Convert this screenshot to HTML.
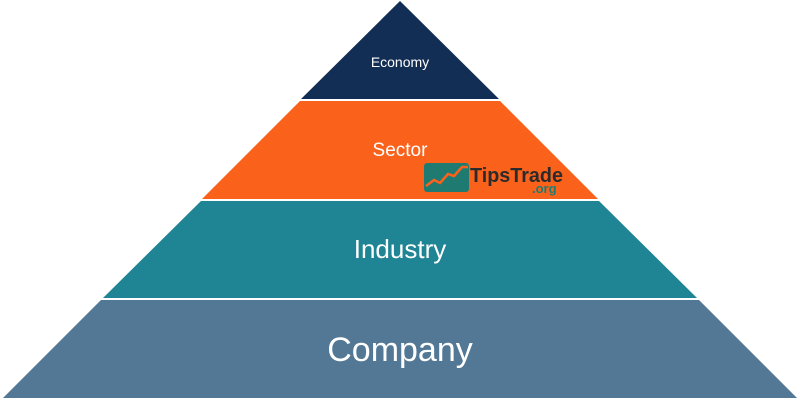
<!DOCTYPE html>
<html><head><meta charset="utf-8"><style>
html,body{margin:0;padding:0;background:#fff;width:800px;height:400px;overflow:hidden}
</style></head><body>
<svg width="800" height="400" viewBox="0 0 800 400" xmlns="http://www.w3.org/2000/svg" font-family="Liberation Sans, sans-serif">
<polygon points="400,1 499,99 301,99" fill="#132e55"/>
<polygon points="300,101 500,101 598,199 202,199" fill="#fa621c"/>
<polygon points="201,201 599,201 697,298 103,298" fill="#1f8494"/>
<polygon points="101,300 699,300 797,398 3,398" fill="#527896"/>
<text x="400" y="67" font-size="14" fill="#fff" text-anchor="middle">Economy</text>
<text x="400" y="156" font-size="19" fill="#fff" text-anchor="middle">Sector</text>
<text x="400" y="258" font-size="26" fill="#fff" text-anchor="middle">Industry</text>
<text x="400" y="361" font-size="34" fill="#fff" text-anchor="middle">Company</text>
<rect x="424" y="163" width="45" height="29" rx="3" fill="#1f7b72"/>
<polyline points="426,186 434,180 440,183 448,174 454,176 462,167 468,167" fill="none" stroke="#fa621c" stroke-width="2.5"/>
<text x="470" y="182" font-size="20" font-weight="bold" fill="#2b2b2b" textLength="93" lengthAdjust="spacingAndGlyphs">TipsTrade</text>
<text x="532" y="193" font-size="13" font-weight="bold" fill="#1f7b72">.org</text>
</svg>
</body></html>
